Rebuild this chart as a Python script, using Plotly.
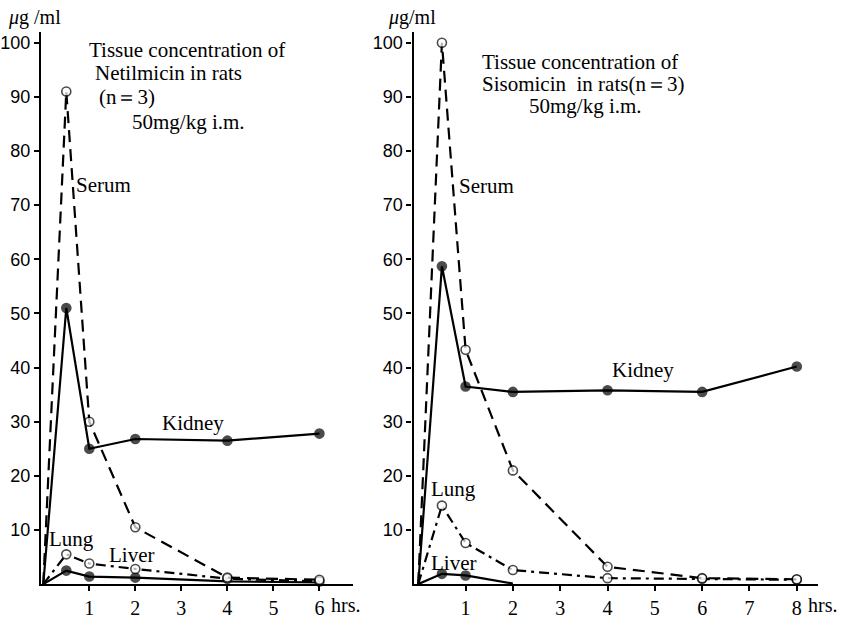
import plotly.graph_objects as go

# ---------------- data ----------------
# Left panel: Netilmicin (hrs)
net_serum_t = [0, 0.5, 1, 2, 4, 6]
net_serum_v = [0, 91, 30, 10.5, 1.2, 0.8]
net_kidney_t = [0, 0.5, 1, 2, 4, 6]
net_kidney_v = [0, 51, 25, 26.8, 26.5, 27.8]
net_lung_t = [0, 0.5, 1, 2, 4, 6]
net_lung_v = [0, 5.5, 3.8, 2.8, 1.0, 0.5]
net_liver_t = [0, 0.5, 1, 2, 4, 6]
net_liver_v = [0, 2.5, 1.4, 1.2, 0.5, 0.3]
net_liver_marked = [False, True, True, True, False, False]

# Right panel: Sisomicin (hrs)
sis_serum_t = [0, 0.5, 1, 2, 4, 6, 8]
sis_serum_v = [0, 100, 43.3, 21, 3.2, 1.1, 0.9]
sis_kidney_t = [0, 0.5, 1, 2, 4, 6, 8]
sis_kidney_v = [0, 58.7, 36.5, 35.5, 35.8, 35.5, 40.2]
sis_lung_t = [0, 0.5, 1, 2, 4, 6, 8]
sis_lung_v = [0, 14.5, 7.6, 2.6, 1.1, 1.0, 0.8]
sis_liver_t = [0, 0.5, 1, 2]
sis_liver_v = [0, 1.9, 1.6, 0.1]
sis_liver_marked = [False, True, True, False]

left_xticks = [1, 2, 3, 4, 5, 6]
right_xticks = [1, 2, 3, 4, 5, 6, 7, 8]
yticks = [10, 20, 30, 40, 50, 60, 70, 80, 90, 100]

SERIF = "Liberation Serif, Times New Roman, serif"
SANS = "Liberation Sans, Arial, sans-serif"
BLACK = "#000000"

fig = go.Figure()

def add_series(t, v, xa, ya, dash, filled, marked=None, width=2.2):
    if marked is None:
        marked = [i != 0 for i in range(len(t))]
    sizes = [9 if m else 0 for m in marked]
    fig.add_trace(go.Scatter(
        x=t, y=v, xaxis=xa, yaxis=ya, mode="lines+markers",
        line=dict(color=BLACK, width=width, dash=dash),
        marker=dict(size=sizes, color=BLACK if filled else "white",
                    line=dict(color=BLACK, width=1.6), symbol="circle"),
        showlegend=False, hoverinfo="skip", cliponaxis=False))

DASH = "12px,7px"
DASHDOT = "10px,5px,3px,5px"

# Left panel
add_series(net_liver_t, net_liver_v, "x", "y", "solid", True, net_liver_marked)
add_series(net_lung_t, net_lung_v, "x", "y", DASHDOT, False)
add_series(net_serum_t, net_serum_v, "x", "y", DASH, False)
add_series(net_kidney_t, net_kidney_v, "x", "y", "solid", True)
# Right panel
add_series(sis_liver_t, sis_liver_v, "x2", "y2", "solid", True, sis_liver_marked)
add_series(sis_lung_t, sis_lung_v, "x2", "y2", DASHDOT, False)
add_series(sis_serum_t, sis_serum_v, "x2", "y2", DASH, False)
add_series(sis_kidney_t, sis_kidney_v, "x2", "y2", "solid", True)

def xaxis_cfg(domain, rng, ticks, anchor):
    return dict(domain=domain, range=rng, anchor=anchor,
                tickvals=ticks, ticktext=[str(t) for t in ticks],
                showline=True, linecolor=BLACK, linewidth=2.2,
                ticks="outside", ticklen=5, tickwidth=2, tickcolor=BLACK,
                showgrid=False, zeroline=False,
                tickfont=dict(family=SERIF, size=20, color=BLACK))

def yaxis_cfg(anchor):
    return dict(domain=[0.0533, 0.9483], range=[0, 102], anchor=anchor,
                tickvals=yticks, ticktext=[str(t) for t in yticks],
                showline=True, linecolor=BLACK, linewidth=2.2,
                ticks="outside", ticklen=5, tickwidth=2, tickcolor=BLACK,
                showgrid=False, zeroline=False,
                tickfont=dict(family=SANS, size=18, color=BLACK))

fig.update_layout(
    width=841, height=619,
    margin=dict(l=0, r=0, t=0, b=0),
    paper_bgcolor="white", plot_bgcolor="white",
    xaxis=xaxis_cfg([0.0476, 0.4185], [-0.05, 6.72], left_xticks, "y"),
    yaxis=yaxis_cfg("x"),
    xaxis2=xaxis_cfg([0.4911, 0.9727], [-0.1, 8.45], right_xticks, "y2"),
    yaxis2=yaxis_cfg("x2"),
)

ann = []
def text(x, y, s, xref, yref, size=21, xanchor="center", family=SERIF):
    ann.append(dict(x=x, y=y, xref=xref, yref=yref, text=s, showarrow=False,
                    xanchor=xanchor, yanchor="middle",
                    font=dict(family=family, size=size, color=BLACK)))

# unit labels
text(0.040, 0.972, "<i>μ</i>g /ml", "paper", "paper", 20)
text(0.4891, 0.972, "<i>μ</i>g/ml", "paper", "paper", 20)

# left titles
text(0.95, 98.7, "Tissue concentration of", "x", "y", 21, "left")
text(1.08, 94.4, "Netilmicin in rats", "x", "y", 21, "left")
text(1.17, 90.0, "(n＝3)", "x", "y", 21, "left")
text(1.88, 85.4, "50mg/kg i.m.", "x", "y", 21, "left")
text(1.3, 73.8, "Serum", "x", "y", 21)
text(3.25, 29.8, "Kidney", "x", "y", 21)
text(0.62, 8.4, "Lung", "x", "y", 21)
text(1.91, 5.4, "Liver", "x", "y", 21)

# right titles
text(1.3, 96.5, "Tissue concentration of", "x2", "y2", 21, "left")
text(1.3, 92.4, "Sisomicin  in rats(n＝3)", "x2", "y2", 21, "left")
text(2.3, 88.4, "50mg/kg i.m.", "x2", "y2", 21, "left")
text(1.45, 73.6, "Serum", "x2", "y2", 21)
text(4.75, 39.5, "Kidney", "x2", "y2", 21)
text(0.75, 17.6, "Lung", "x2", "y2", 21)
text(0.75, 3.9, "Liver", "x2", "y2", 21)

# "hrs." after last tick labels
ann.append(dict(x=6.2, y=0.019, xref="x", yref="paper", text="hrs.",
                showarrow=False, xanchor="left", yanchor="middle",
                font=dict(family=SERIF, size=20, color=BLACK)))
ann.append(dict(x=8.19, y=0.019, xref="x2", yref="paper", text="hrs.",
                showarrow=False, xanchor="left", yanchor="middle",
                font=dict(family=SERIF, size=20, color=BLACK)))

fig.update_layout(annotations=ann)
fig.write_html("out.html")
